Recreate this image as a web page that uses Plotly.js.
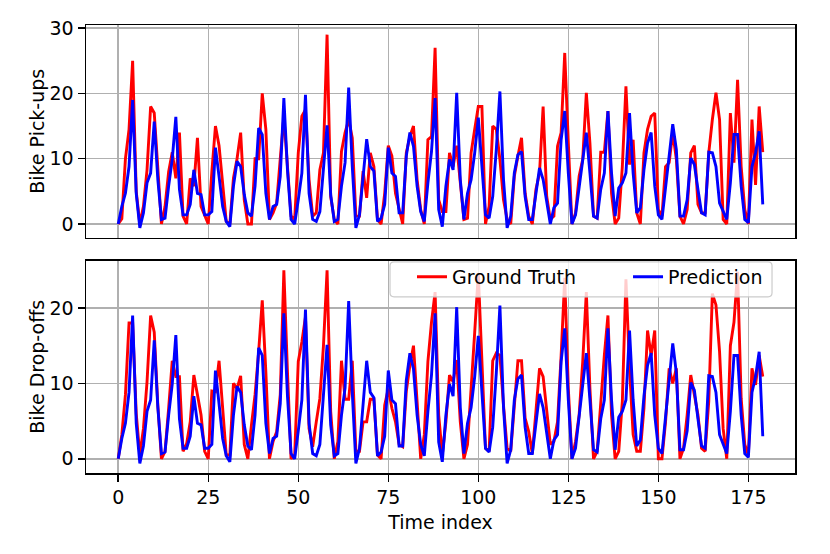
<!DOCTYPE html>
<html>
<head>
<meta charset="utf-8">
<script src="https://cdn.plot.ly/plotly-3.0.1.min.js"></script>
<style>
  html, body { margin: 0; padding: 0; background: #fff; }
  #chart { width: 830px; height: 554px; }
</style>
</head>
<body>
<div id="chart"></div>
<script>
// values, one per time step (0..179)
const pickupTruth = [
  0, 0.8, 10, 14.5, 25, 5, 0, 2.7, 8.3, 18, 17, 8, 0, 2.7, 8, 11, 7, 14, 1.2, 0,
  7, 5.8, 13.2, 2.7, 1.2, 0, 8, 15, 12, 6, 0.4, 0, 7, 10, 14, 3.7, 0, 0, 10, 10,
  20, 14.5, 0.7, 1.7, 3.2, 10, 16.5, 8.8, 1.2, 0.7, 10.9, 16.5, 17.5, 6.8, 1.2, 1.7, 8.3, 10.9, 29, 4.2,
  0.7, 0, 11.1, 14, 16, 13.2, 1.2, 1.2, 8.1, 4, 10.9, 8.8, 0.7, 0, 4.7, 12, 10.4, 4.7, 2.2, 0,
  10.9, 13.4, 15, 6.8, 2.2, 0, 12.9, 13.4, 27, 3.7, 1.9, 1.9, 10.9, 8.8, 12, 6.8, 0.7, 0.9, 10.9, 14.5,
  18, 18, 0, 2.7, 15, 14.5, 9.9, 3.7, 0.7, 0, 7.3, 10.4, 13.2, 4.7, 1.2, 0, 5.3, 7.8, 18, 4.2,
  0.7, 1.2, 11.9, 14, 26.2, 12.4, 0, 1.7, 7.3, 9.9, 20.1, 12.4, 1.2, 0.9, 11, 11, 17.3, 4.7, 0, 0.9,
  8.8, 21.1, 9.1, 12.9, 1.7, 0, 10.9, 14.5, 16.5, 17, 2.2, 1.2, 8.8, 9.4, 14, 9.9, 1.2, 0, 2.2, 10.9,
  12, 3, 1.7, 1.7, 10.9, 16, 20.1, 16, 0.7, 0, 17, 9.4, 22.1, 8.8, 2.2, 0, 16, 6, 18, 11
];

const dropoffTruth = [
  0, 3.2, 8.5, 18, 18, 6, 0.5, 4, 10.2, 19, 16.8, 7.1, 0, 1, 6.7, 13, 10.9, 10.9, 1, 2,
  4.9, 11.1, 8.5, 5.8, 1, 0, 9, 8.9, 13, 6.7, 0.5, 0.5, 10, 9.3, 11, 1.9, 0, 4.5, 8.5, 14.2,
  21, 11.5, 0, 2.3, 3.6, 8.5, 25, 11.5, 0, 0.5, 12.9, 15.5, 18.8, 4, 1.6, 4.9, 8, 15, 25, 6.3,
  0, 2.3, 13, 7.9, 7.9, 13, 1, 1, 4.9, 4.9, 7.9, 7.9, 0.5, 0, 7.1, 9.3, 6.7, 4.9, 1.9, 1.6,
  8.9, 12.4, 15, 7.6, 0, 3.2, 12.9, 18.1, 22.1, 5.8, 0.5, 4.9, 11.1, 10.2, 13.1, 4.9, 0, 1.9, 10.2, 16.8,
  24.6, 13.7, 1.4, 1, 13, 14, 13.7, 7.1, 1.4, 1, 7.6, 13, 13, 5.4, 3.6, 0.7, 6.3, 12, 10.9, 6.7,
  1.9, 2.3, 4.9, 13.7, 24, 9.3, 0, 2.3, 5.8, 12.9, 22.1, 9.3, 0, 1, 8, 13.7, 19, 5.8, 0, 1,
  7.6, 23.8, 12, 3.2, 1, 1, 6.7, 17, 13.7, 17, 0, 0, 4.9, 12, 10, 12, 0, 1.4, 5.8, 11.1,
  8.5, 5.8, 1.4, 1, 7.6, 21.9, 20.4, 14.2, 4, 0, 15, 18.1, 24.8, 8, 1.9, 0.5, 12, 9.8, 13.7, 10.9
];

// the model output is the same curve in both panels
const prediction = [
  0, 2.7, 4.7, 8.8, 19, 4.7, -0.6, 1.7, 6.3, 7.8, 15.7, 6.8, 0.7, 0.9, 5.8, 9.9, 16.4, 5.3, 1.4, 1.4,
  3, 8.3, 4.7, 4.5, 1.4, 1.4, 1.9, 11.7, 7.3, 2.7, 0.4, -0.4, 5.8, 9.6, 8.8, 4.5, 1.7, 1.2, 5.8, 14.7,
  13.7, 4.7, 0.7, 2.7, 3, 7.3, 19.3, 8.3, 0.7, 0, 3.7, 7.8, 19.8, 4.7, 0.7, 0.4, 1.9, 8.8, 15.1, 4.5,
  0.4, 0.7, 5.8, 9.4, 20.9, 8.8, -0.6, 1.4, 7.3, 13, 8.8, 8.1, 0.4, 0.9, 3, 11.7, 7.8, 7.3, 1.7, 1.7,
  10.4, 14, 11.9, 5.8, 1.9, 0.4, 6.3, 11.1, 19.3, 2.2, -0.4, 5.8, 9.9, 8.3, 20.1, 6.8, 0.7, 4.7, 6.8, 10.9,
  16.3, 8.3, 1.4, 0.9, 4.2, 11.4, 20.3, 6.8, -0.6, 1.2, 7.8, 10.6, 11.1, 4.2, 0.7, 0.7, 4.7, 8.6, 6.8, 3.5,
  0, 2.5, 3.2, 12.9, 17.3, 7.8, 0, 1.4, 5.8, 9.9, 14, 7.8, 1.2, 0.9, 5.3, 7.8, 17.3, 7.8, 1.2, 5.5,
  6.3, 7.8, 17, 7.8, 1.7, 2.5, 8.3, 12.4, 14, 5.8, 1.4, 0.7, 5.3, 9.9, 15.3, 11.4, 1.2, 1.2, 3.7, 10.1,
  9.1, 5.3, 1.7, 1.4, 11, 10.9, 8.8, 3.2, 1.9, 0.7, 6.3, 13.7, 13.7, 5.8, 0.7, 0.2, 8.8, 10.9, 14.2, 3
];

const timeIndex = prediction.map((_, i) => i);

const xTicks = [0, 25, 50, 75, 100, 125, 150, 175];
const pickupTicks = [0, 10, 20, 30];
const dropoffTicks = [0, 10, 20];

const font = { family: "DejaVu Sans, sans-serif", size: 19, color: "#000" };
const lineW = 2.9;

const traces = [
  { x: timeIndex, y: pickupTruth, xaxis: "x", yaxis: "y", type: "scatter", mode: "lines",
    line: { color: "#ff0000", width: lineW }, name: "Ground Truth", showlegend: false },
  { x: timeIndex, y: prediction, xaxis: "x", yaxis: "y", type: "scatter", mode: "lines",
    line: { color: "#0000ff", width: lineW }, name: "Prediction", showlegend: false },
  { x: timeIndex, y: dropoffTruth, xaxis: "x2", yaxis: "y2", type: "scatter", mode: "lines",
    line: { color: "#ff0000", width: lineW }, name: "Ground Truth", legend: "legend" },
  { x: timeIndex, y: prediction, xaxis: "x2", yaxis: "y2", type: "scatter", mode: "lines",
    line: { color: "#0000ff", width: lineW }, name: "Prediction", legend: "legend2" },
];

const common = {
  showgrid: true, gridcolor: "#b0b0b0", gridwidth: 1.5,
  zeroline: false, showline: true, mirror: true,
  linecolor: "#000", linewidth: 1.5,
  ticks: "outside", ticklen: 7, tickwidth: 1.5, tickcolor: "#000",
  tickfont: font,
};

// legend frame (rounded, semi-transparent) drawn as a paper shape,
// the two entries sit on it as separate transparent legends
const bx0 = 0.4288, bx1 = 0.9676, by0 = 0.3933, by1 = 0.4713;
const rx = 4 / 709, ry = 4 / 448.3;
const framePath =
  `M${bx0 + rx},${by1} L${bx1 - rx},${by1} Q${bx1},${by1} ${bx1},${by1 - ry} ` +
  `L${bx1},${by0 + ry} Q${bx1},${by0} ${bx1 - rx},${by0} ` +
  `L${bx0 + rx},${by0} Q${bx0},${by0} ${bx0},${by0 + ry} ` +
  `L${bx0},${by1 - ry} Q${bx0},${by1} ${bx0 + rx},${by1} Z`;

const legendBase = {
  orientation: "h", xanchor: "left", yanchor: "top", y: 0.4803,
  bgcolor: "rgba(0,0,0,0)", borderwidth: 0, font: font,
};

const layout = {
  width: 830, height: 554,
  margin: { l: 86, r: 35, t: 25, b: 81 },
  paper_bgcolor: "#fff", plot_bgcolor: "#fff",
  font: font,
  xaxis: Object.assign({}, common, {
    anchor: "y", domain: [0, 1], range: [-8.95, 187.95],
    tickvals: xTicks, showticklabels: false, ticks: "",
  }),
  yaxis: Object.assign({}, common, {
    anchor: "x", domain: [0.5255, 1], range: [-2.08, 30.48],
    tickvals: pickupTicks,
    title: { text: "Bike Pick-ups", font: font, standoff: 0 },
  }),
  xaxis2: Object.assign({}, common, {
    anchor: "y2", domain: [0, 1], range: [-8.95, 187.95], matches: "x",
    tickvals: xTicks,
    title: { text: "Time index", font: font, standoff: 8 },
  }),
  yaxis2: Object.assign({}, common, {
    anchor: "x2", domain: [0, 0.4742], range: [-1.88, 26.28],
    tickvals: dropoffTicks,
    title: { text: "Bike Drop-offs", font: font, standoff: 0 },
  }),
  shapes: [{
    type: "path", xref: "paper", yref: "paper", layer: "above",
    path: framePath,
    fillcolor: "rgba(255,255,255,0.8)",
    line: { color: "#cccccc", width: 1.2 },
  }],
  legend: Object.assign({}, legendBase, { x: 0.4598 }),
  legend2: Object.assign({}, legendBase, { x: 0.7645 }),
};

Plotly.newPlot("chart", traces, layout, { displayModeBar: false, staticPlot: true });
</script>
</body>
</html>
